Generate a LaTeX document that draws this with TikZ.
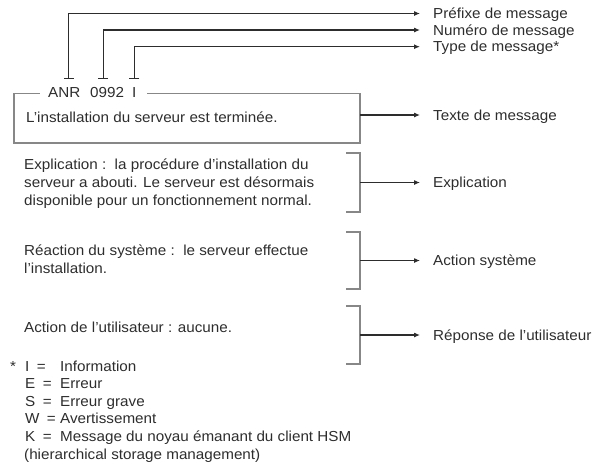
\documentclass[tikz,border=0pt]{standalone}
\usepackage{fontspec}
\setmainfont{Liberation Sans}[FakeStretch=1.05]
\usetikzlibrary{arrows.meta,positioning}
\definecolor{MsgInk}{RGB}{45,45,45}
\definecolor{MsgRule}{RGB}{45,45,45}
\definecolor{MsgFrame}{RGB}{135,135,135}

\begin{document}
\begin{tikzpicture}[x=1pt,y=-1pt,>={Latex[length=6pt,width=5pt]}]
        \tikzset{txt/.style={inner sep=0pt,text=MsgInk,font=\fontsize{14.5}{17.6}\selectfont},
          para/.style={txt,anchor=north west,align=left},
          lbl/.style={txt,anchor=west,text height=10.4pt,text depth=0pt},
          code/.style={txt,anchor=base west},
          ptr/.style={->,MsgRule,line width=1.1pt,shorten >=13pt},
          field/.style={ptr,{Bar[width=10pt]}->},
          frame/.style={MsgFrame,line width=1.6pt}}
        \useasboundingbox (0,0) rectangle (596,464);
        \node[code] (anr) at (48,97) {ANR};
        \node[code] (num) at (90,97) {0992};
        \node[code] (typ) at (132,97) {I};
        \node[lbl] (pfx) at (433,13.5) {Préfixe de message};
        \node[lbl] (nbr) at (433,30) {Numéro de message};
        \node[lbl] (kind) at (433,46.7) {Type de message*};
        \draw[field] ([xshift=4.5pt,yshift=7.6pt]anr.north) |- (pfx.west);
        \draw[field] ([xshift=-4pt,yshift=7.6pt]num.north) |- (nbr.west);
        \draw[field] ([xshift=0pt,yshift=7.6pt]typ.north) |- (kind.west);
        \coordinate (btl) at (14,93.5);
        \coordinate (bbr) at (360,143);
        \draw[frame] (40,93.5) -- (btl) |- (bbr) |- (147,93.5);
        \node[para] (msg) at (26,111.5) {L'installation du serveur est terminée.};
        \node[lbl] (txtlbl) at (433,115) {Texte de message};
        \draw[ptr] (txtlbl -| bbr) -- (txtlbl.west);
        \node[para] (expl) at (24,159) {Explication :\ \ la procédure d'installation du\\serveur a abouti. Le serveur est désormais\\disponible pour un fonctionnement normal.};
        \node[para] (sysact) at (24,245) {Réaction du système :\ \ le serveur effectue\\l'installation.};
        \node[para] (usract) at (24,322) {Action de l'utilisateur : aucune.};
        \foreach \ya/\yb/\lab/\txt in {153/212/expllbl/Explication,232/289/syslbl/Action système,306/364/usrlbl/Réponse de l'utilisateur}{
          \draw[frame] (346,\ya) -- (360,\ya) -- (360,\yb) -- (346,\yb);
          \node[lbl] (\lab) at (433,{(\ya+\yb)/2}) {\txt};
          \draw[ptr] (360,{(\ya+\yb)/2}) -- (\lab.west);
        }
        \node[code] (star) at (10,371) {*};
        \foreach \k/\v [count=\i] in {I/Information,E/Erreur,S/Erreur grave,W/Avertissement,K/Message du noyau émanant du client HSM}{
          \node[code] (key\i) at (25,{371+17.6*(\i-1)}) {\k};
          \node[code] (eq\i) at ([xshift=7pt]key\i.base east) {=};
          \node[code] (val\i) at (60,{371+17.6*(\i-1)}) {\v};
        }
        \node[code] (hsm) at (24,459) {(hierarchical storage management)};
      \end{tikzpicture}
\end{document}
